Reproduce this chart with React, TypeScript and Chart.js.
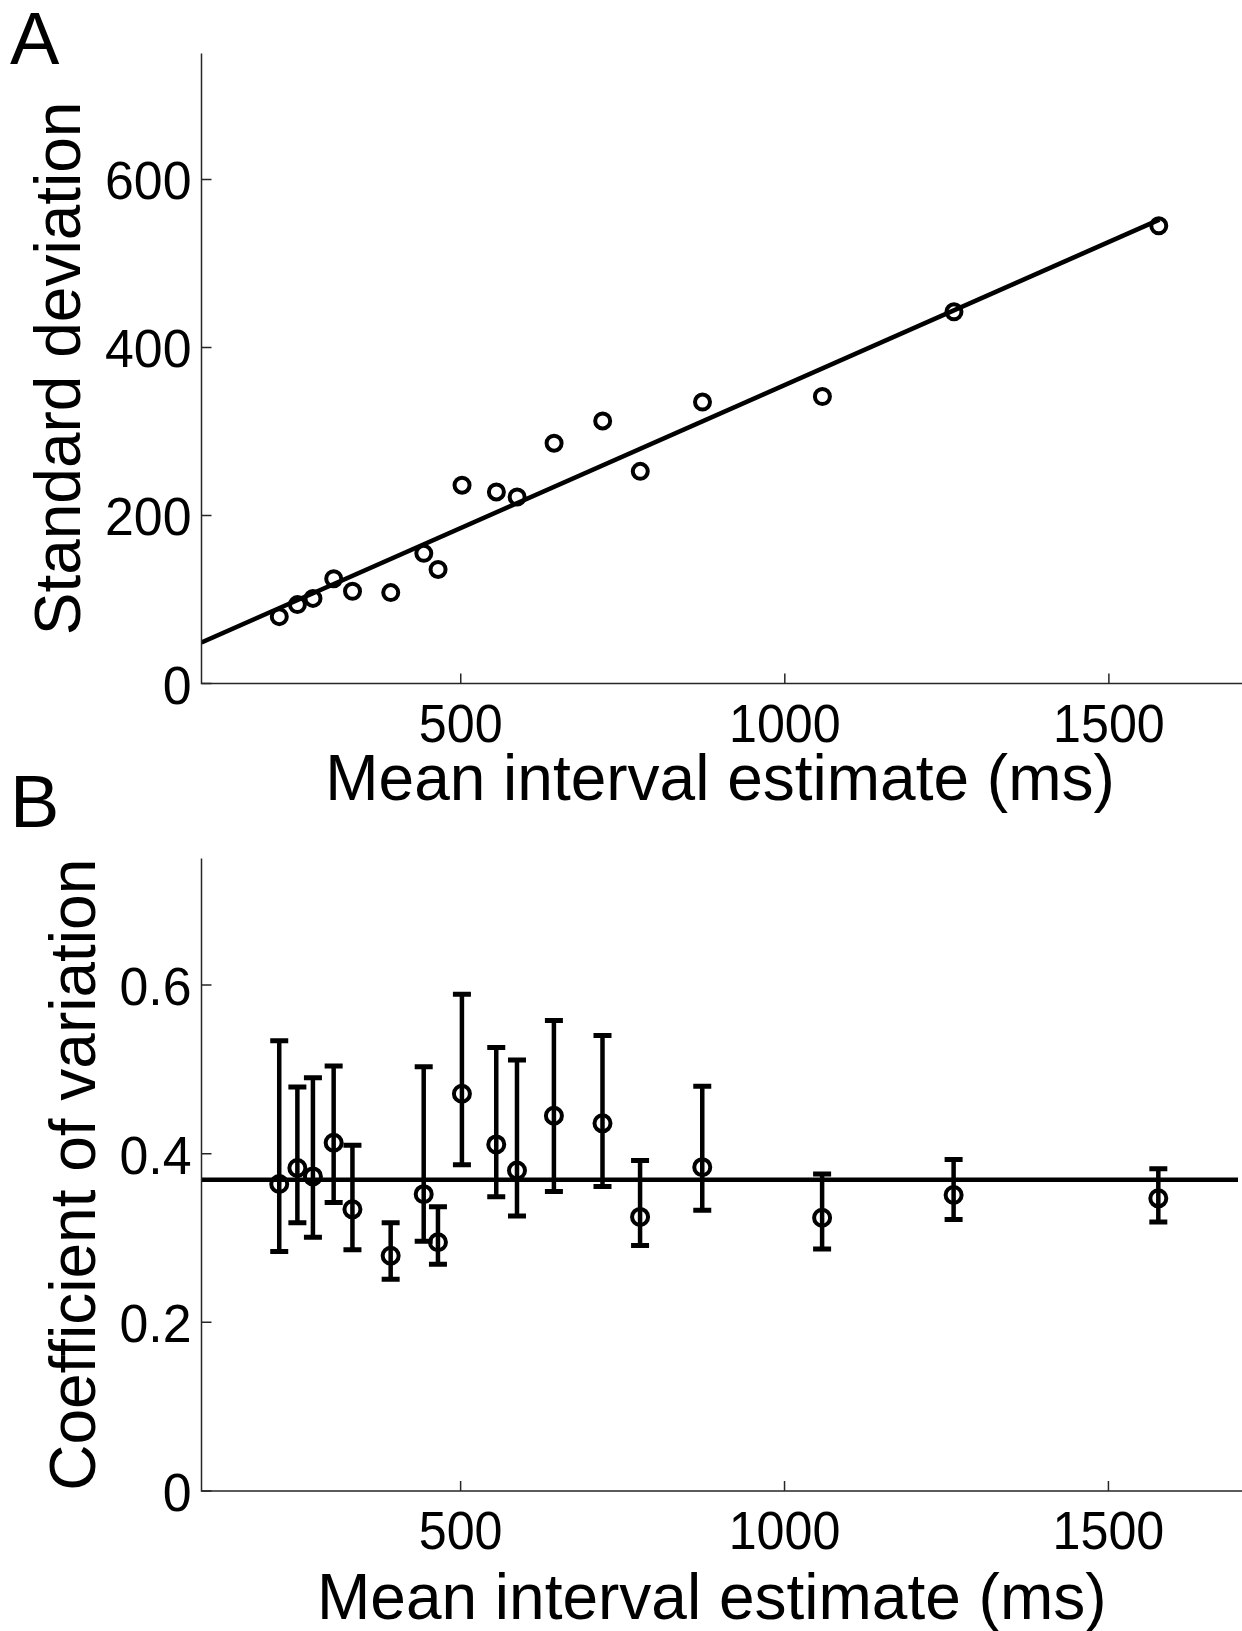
import React, { useEffect, useRef } from "react";
import { Chart, registerables } from "chart.js";

Chart.register(...registerables);

// ---------- data ----------
const meanIntervals = [220, 248, 272, 304, 333, 392, 443, 465, 502, 555, 587, 644, 719, 777, 873, 1058, 1261, 1577];
const sdValues = [79.6, 93.9, 101.3, 124.7, 109.8, 108.2, 154.9, 135.8, 236, 228, 222, 286, 312.5, 252.5, 335, 341.6, 442.4, 544.8];
const fitX = [100, 1578];
const fitSD = [48.9, 552.1];

const cvMean = [0.364, 0.383, 0.373, 0.413, 0.334, 0.279, 0.352, 0.295, 0.471, 0.411, 0.38, 0.445, 0.436, 0.325, 0.384, 0.324, 0.351, 0.347];
const cvUpper = [0.534, 0.479, 0.49, 0.504, 0.41, 0.318, 0.503, 0.337, 0.589, 0.526, 0.511, 0.558, 0.54, 0.392, 0.48, 0.376, 0.393, 0.382];
const cvLower = [0.284, 0.318, 0.301, 0.342, 0.286, 0.251, 0.296, 0.269, 0.387, 0.349, 0.326, 0.355, 0.361, 0.291, 0.333, 0.287, 0.322, 0.319];
const cvGrandMean = 0.369;
const cvLineX = [100, 1700];

const xRange = [100, 1700];
const xTicks = [500, 1000, 1500];
const xTickLabels = ["500", "1000", "1500"];
const sdRange = [0, 750];
const sdTicks = [0, 200, 400, 600];
const sdTickLabels = ["0", "200", "400", "600"];
const cvRange = [0, 0.75];
const cvTicks = [0, 0.2, 0.4, 0.6];
const cvTickLabels = ["0", "0.2", "0.4", "0.6"];

const xTitle = "Mean interval estimate (ms)";
const sdTitle = "Standard deviation";
const cvTitle = "Coefficient of variation";

const FONT = '"Liberation Sans", Arial, Helvetica, sans-serif';

type DecorOpts = {
  letter: string;
  letterY: number;
  yTitle: string;
  yTitleX: number;
  yTicks: number[];
  yLabels: string[];
  xLabelOffset: number;
  xTitleOffset: number;
  xTitleShift: number;
};

function drawSquished(ctx: any, text: string, x: number, y: number, sx: number) {
  ctx.save();
  ctx.translate(x, y);
  ctx.scale(sx, 1);
  ctx.fillText(text, 0, 0);
  ctx.restore();
}

function makeDecor(o: DecorOpts) {
  return {
    id: "decor",
    afterDraw(chart: any) {
      const { ctx, chartArea: a, scales } = chart;
      const xs = scales.x;
      const ys = scales.y;
      ctx.save();
      // axes
      ctx.strokeStyle = "#262626";
      ctx.lineWidth = 1.5;
      ctx.beginPath();
      ctx.moveTo(a.left, a.top);
      ctx.lineTo(a.left, a.bottom);
      ctx.lineTo(a.right + 10, a.bottom);
      ctx.stroke();
      // tick marks (inward)
      ctx.beginPath();
      xTicks.forEach((v) => {
        const px = xs.getPixelForValue(v);
        ctx.moveTo(px, a.bottom);
        ctx.lineTo(px, a.bottom - 10);
      });
      o.yTicks.forEach((v) => {
        const py = ys.getPixelForValue(v);
        ctx.moveTo(a.left, py);
        ctx.lineTo(a.left + 10, py);
      });
      ctx.stroke();
      // tick labels
      ctx.fillStyle = "#000";
      ctx.font = `54px ${FONT}`;
      ctx.textBaseline = "alphabetic";
      ctx.textAlign = "right";
      o.yTicks.forEach((v, i) => {
        drawSquished(ctx, o.yLabels[i], a.left - 10, ys.getPixelForValue(v) + 20, 0.96);
      });
      ctx.textAlign = "center";
      xTicks.forEach((v, i) => {
        drawSquished(ctx, xTickLabels[i], xs.getPixelForValue(v), a.bottom + o.xLabelOffset, 0.93);
      });
      // axis titles
      ctx.font = `64px ${FONT}`;
      ctx.fillText(xTitle, (a.left + a.right) / 2 + o.xTitleShift, a.bottom + o.xTitleOffset);
      ctx.save();
      ctx.translate(o.yTitleX, (a.top + a.bottom) / 2);
      ctx.rotate(-Math.PI / 2);
      ctx.textAlign = "center";
      ctx.fillText(o.yTitle, 0, 0);
      ctx.restore();
      // panel letter
      ctx.font = `74px ${FONT}`;
      ctx.textAlign = "left";
      ctx.fillText(o.letter, 10, o.letterY);
      ctx.restore();
    },
  };
}

const errorBars = {
  id: "errorBars",
  beforeDatasetsDraw(chart: any) {
    const { ctx, scales } = chart;
    const xs = scales.x;
    const ys = scales.y;
    ctx.save();
    ctx.strokeStyle = "#000";
    ctx.lineCap = "butt";
    meanIntervals.forEach((mx, i) => {
      const px = xs.getPixelForValue(mx);
      const top = ys.getPixelForValue(cvUpper[i]);
      const bot = ys.getPixelForValue(cvLower[i]);
      ctx.lineWidth = 4.5;
      ctx.beginPath();
      ctx.moveTo(px, top);
      ctx.lineTo(px, bot);
      ctx.stroke();
      ctx.lineWidth = 5;
      ctx.beginPath();
      ctx.moveTo(px - 9, top);
      ctx.lineTo(px + 9, top);
      ctx.moveTo(px - 9, bot);
      ctx.lineTo(px + 9, bot);
      ctx.stroke();
    });
    ctx.restore();
  },
};

function baseOptions(yMin: number, yMax: number, padding: any) {
  return {
    responsive: false,
    animation: false as const,
    events: [] as any[],
    layout: { padding },
    plugins: { legend: { display: false }, tooltip: { enabled: false } },
    scales: {
      x: { type: "linear" as const, min: xRange[0], max: xRange[1], display: false },
      y: { type: "linear" as const, min: yMin, max: yMax, display: false },
    },
  };
}

export default function App() {
  const refA = useRef<HTMLCanvasElement>(null);
  const refB = useRef<HTMLCanvasElement>(null);

  useEffect(() => {
    const chartA = new Chart(refA.current as HTMLCanvasElement, {
      type: "scatter",
      data: {
        datasets: [
          {
            data: fitX.map((x, i) => ({ x, y: fitSD[i] })),
            showLine: true,
            borderColor: "#000",
            borderWidth: 4.5,
            pointRadius: 0,
          },
          {
            data: meanIntervals.map((x, i) => ({ x, y: sdValues[i] })),
            pointRadius: 7.5,
            pointBorderWidth: 4,
            pointBorderColor: "#000",
            pointBackgroundColor: "rgba(0,0,0,0)",
            backgroundColor: "rgba(0,0,0,0)",
            borderColor: "#000",
          },
        ],
      },
      options: baseOptions(sdRange[0], sdRange[1], { left: 201.5, right: 4, top: 53.4, bottom: 146.5 }) as any,
      plugins: [
        makeDecor({
          letter: "A",
          letterY: 64,
          yTitle: sdTitle,
          yTitleX: 80,
          yTicks: sdTicks,
          yLabels: sdTickLabels,
          xLabelOffset: 58,
          xTitleOffset: 116.5,
          xTitleShift: 0,
        }),
      ],
    });

    const chartB = new Chart(refB.current as HTMLCanvasElement, {
      type: "scatter",
      data: {
        datasets: [
          {
            data: cvLineX.map((x) => ({ x, y: cvGrandMean })),
            showLine: true,
            borderColor: "#000",
            borderWidth: 4.5,
            pointRadius: 0,
          },
          {
            data: meanIntervals.map((x, i) => ({ x, y: cvMean[i] })),
            pointRadius: 8,
            pointBorderWidth: 4,
            pointBorderColor: "#000",
            pointBackgroundColor: "rgba(0,0,0,0)",
            backgroundColor: "rgba(0,0,0,0)",
            borderColor: "#000",
          },
        ],
      },
      options: baseOptions(cvRange[0], cvRange[1], { left: 201.5, right: 4, top: 98.5, bottom: 140 }) as any,
      plugins: [
        errorBars,
        makeDecor({
          letter: "B",
          letterY: 67,
          yTitle: cvTitle,
          yTitleX: 95,
          yTicks: cvTicks,
          yLabels: cvTickLabels,
          xLabelOffset: 57.5,
          xTitleOffset: 128.3,
          xTitleShift: -8,
        }),
      ],
    });

    return () => {
      chartA.destroy();
      chartB.destroy();
    };
  }, []);

  return (
    <div
      style={{
        position: "absolute",
        left: 0,
        top: 0,
        width: 1242,
        height: 1631,
        overflow: "hidden",
        background: "#fff",
      }}
    >
      <canvas ref={refA} width={1250} height={830} style={{ position: "absolute", left: 0, top: 0 }} />
      <canvas ref={refB} width={1250} height={871} style={{ position: "absolute", left: 0, top: 760 }} />
    </div>
  );
}
